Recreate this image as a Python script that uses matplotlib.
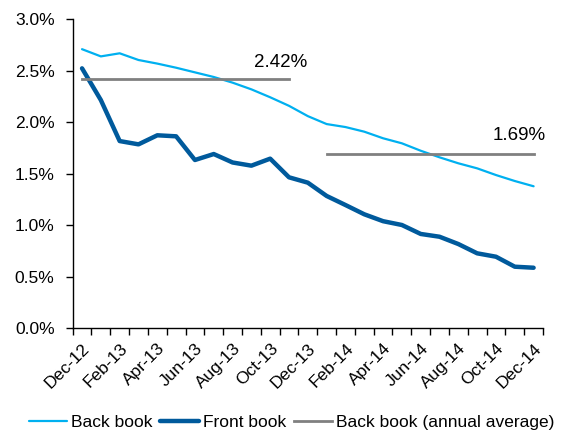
import matplotlib
matplotlib.use("Agg")
import matplotlib.pyplot as plt
from matplotlib.ticker import FixedLocator, FuncFormatter

plt.rcParams['font.family'] = ['Liberation Sans', 'DejaVu Sans']

months = ["Dec-12", "Jan-13", "Feb-13", "Mar-13", "Apr-13", "May-13", "Jun-13", "Jul-13",
          "Aug-13", "Sep-13", "Oct-13", "Nov-13", "Dec-13", "Jan-14", "Feb-14", "Mar-14",
          "Apr-14", "May-14", "Jun-14", "Jul-14", "Aug-14", "Sep-14", "Oct-14", "Nov-14", "Dec-14"]
back_book = [2.71, 2.64, 2.67, 2.605, 2.57, 2.53, 2.485, 2.44, 2.385, 2.32, 2.243, 2.16, 2.06,
             1.983, 1.954, 1.909, 1.845, 1.796, 1.724, 1.66, 1.602, 1.553, 1.488, 1.43, 1.379]
front_book = [2.524, 2.216, 1.818, 1.786, 1.874, 1.864, 1.634, 1.692, 1.61, 1.579, 1.647, 1.466,
              1.414, 1.285, 1.197, 1.107, 1.04, 1.003, 0.916, 0.889, 0.818, 0.728, 0.695, 0.598, 0.588]
avg_2013_start, avg_2013_end, avg_2013 = "Dec-12", "Nov-13", 2.42
avg_2014_start, avg_2014_end, avg_2014 = "Jan-14", "Dec-14", 1.69
avg_labels = ["2.42%", "1.69%"]

x = list(range(len(months)))

fig = plt.figure(figsize=(5.63, 4.33), dpi=100)
ax = fig.add_axes([0.129, 0.2418, 0.8355, 0.7136])

ax.plot(x, back_book, color='#00B0F0', lw=1.6, label='Back book', solid_capstyle='round')
ax.plot(x, front_book, color='#005A9C', lw=3.2, label='Front book', solid_capstyle='round', solid_joinstyle='round')
i0, i1 = months.index(avg_2013_start), months.index(avg_2013_end)
j0, j1 = months.index(avg_2014_start), months.index(avg_2014_end)
ax.plot([i0, i1], [avg_2013, avg_2013], color='#808080', lw=2.0, label='Back book (annual average)')
ax.plot([j0, j1], [avg_2014, avg_2014], color='#808080', lw=2.0)

ax.text(i1 + 0.97, 2.54, avg_labels[0], ha='right', va='baseline', fontsize=13.5, color='#000000')
ax.text(j1 + 0.65, 1.828, avg_labels[1], ha='right', va='baseline', fontsize=13.5, color='#000000', clip_on=False)

ax.set_xlim(-0.5, len(months) - 0.5)
ax.set_ylim(0, 3.0)
ax.set_yticks([0, 0.5, 1.0, 1.5, 2.0, 2.5, 3.0])
ax.yaxis.set_major_formatter(FuncFormatter(lambda v, p: f"{v:.1f}%"))

ax.xaxis.set_major_locator(FixedLocator([i - 0.5 for i in range(len(months) + 1)]))
ax.xaxis.set_major_formatter(FuncFormatter(lambda v, p: ""))
ax.xaxis.set_minor_locator(FixedLocator(x[::2]))
ax.set_xticklabels([months[i] for i in x[::2]], minor=True, rotation=45, ha='right', rotation_mode='anchor')
ax.tick_params(axis='x', which='minor', length=0, pad=9, labelsize=12.5)
ax.tick_params(axis='x', which='major', length=5, width=1, direction='out')
ax.tick_params(axis='y', length=5, width=1, direction='out', labelsize=12.5, pad=8)

for s in ['top', 'right']:
    ax.spines[s].set_visible(False)
for s in ['left', 'bottom']:
    ax.spines[s].set_color('black')
    ax.spines[s].set_linewidth(1)

fig.legend(loc='lower center', bbox_to_anchor=(0.518, -0.03), ncol=3, frameon=False, fontsize=12.5,
           handlelength=2.2, handletextpad=0.23, columnspacing=0.46)

fig.savefig('out.png', dpi=100)
